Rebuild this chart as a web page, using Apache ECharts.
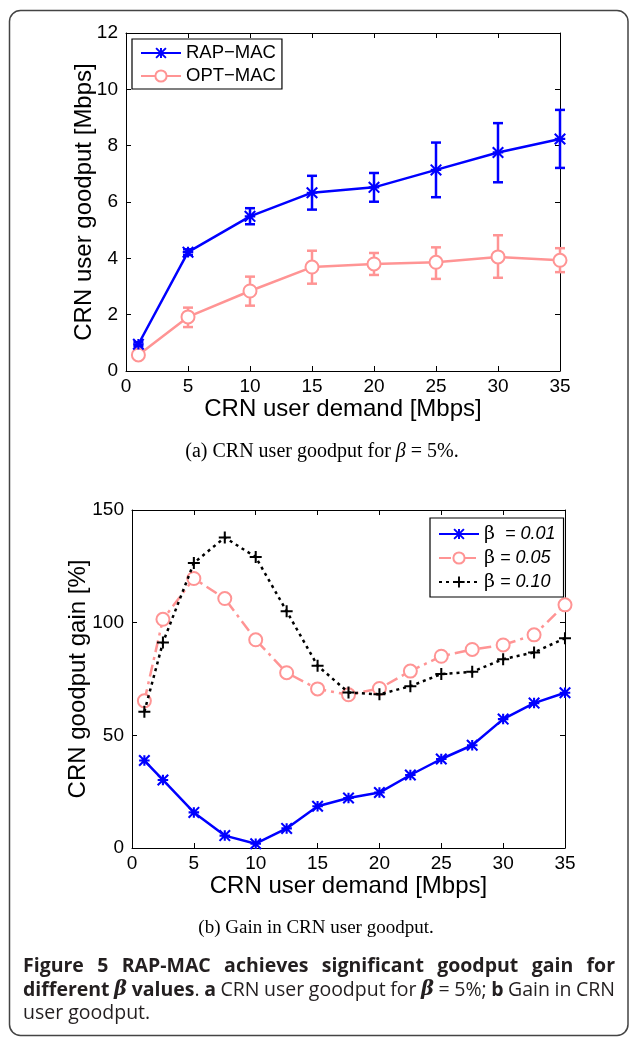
<!DOCTYPE html>
<html><head><meta charset="utf-8">
<script src="https://cdn.jsdelivr.net/npm/echarts@6/dist/echarts.min.js"></script>
<style>html,body{margin:0;padding:0;background:#fff}#c{width:629px;height:1037px}</style>
</head><body><div id="c"></div>
<script>
// ---- data (a): CRN user goodput for beta = 5% ----
const demandA = [1, 5, 10, 15, 20, 25, 30, 35];
const rapMean = [0.95, 4.22, 5.49, 6.33, 6.52, 7.14, 7.76, 8.24];
const rapLow  = [0.88, 4.12, 5.21, 5.73, 6.01, 6.17, 6.70, 7.21];
const rapHigh = [1.02, 4.32, 5.78, 6.93, 7.03, 8.11, 8.80, 9.27];
const optMean = [0.57, 1.92, 2.84, 3.69, 3.80, 3.86, 4.05, 3.93];
const optLow  = [0.52, 1.56, 2.32, 3.10, 3.41, 3.27, 3.31, 3.51];
const optHigh = [0.62, 2.25, 3.35, 4.27, 4.19, 4.39, 4.82, 4.36];
// ---- data (b): gain in CRN user goodput ----
const demandB = [1, 2.5, 5, 7.5, 10, 12.5, 15, 17.5, 20, 22.5, 25, 27.5, 30, 32.5, 35];
const gain001 = [38.8, 30.2, 15.8, 5.5, 1.9, 8.7, 18.5, 22.2, 24.6, 32.4, 39.5, 45.6, 57.2, 64.3, 68.9];
const gain005 = [65.3, 101.5, 119.6, 110.7, 92.4, 77.8, 70.6, 68.0, 70.8, 78.5, 85.1, 88.1, 90.1, 94.6, 107.9];
const gain010 = [60.5, 91.2, 126.5, 137.8, 129.1, 105.1, 80.9, 69.0, 68.2, 71.8, 77.2, 78.2, 83.8, 86.8, 93.1];
const seriesNamesA = ['RAP-MAC', 'OPT-MAC'];
const seriesNamesB = ['β  = 0.01', 'β = 0.05', 'β = 0.10'];
const xTicks = {min: 0, max: 35, interval: 5};
const yTicksA = {min: 0, max: 12, interval: 2};
const yTicksB = {min: 0, max: 150, interval: 50};

const zip = (xs, ys) => xs.map((x, i) => [x, ys[i]]);
const zip3 = (xs, a, b) => xs.map((x, i) => [x, a[i], b[i]]);

const FONT = 'Liberation Sans';
const BLUE = '#0000ff', PINK = '#ff9494', BLACK = '#000000';

const asterisk = 'path://M8 0L12 0L12 20L8 20ZM0 8L20 8L20 12L0 12ZM1.4 -1.4L21.4 18.6L18.6 21.4L-1.4 1.4ZM21.4 1.4L1.4 21.4L-1.4 18.6L18.6 -1.4Z';
const plus = 'path://M8.3 0L11.7 0L11.7 20L8.3 20ZM0 8.3L20 8.3L20 11.7L0 11.7Z';

function errRender(color) {
  return function (params, api) {
    const x = api.value(0), lo = api.value(1), hi = api.value(2);
    const p1 = api.coord([x, lo]), p2 = api.coord([x, hi]);
    const w = 5;
    const style = {stroke: color, lineWidth: 2.5, fill: null};
    return {type: 'group', children: [
      {type: 'line', shape: {x1: p1[0], y1: p1[1], x2: p2[0], y2: p2[1]}, style},
      {type: 'line', shape: {x1: p1[0] - w, y1: p1[1], x2: p1[0] + w, y2: p1[1]}, style},
      {type: 'line', shape: {x1: p2[0] - w, y1: p2[1], x2: p2[0] + w, y2: p2[1]}, style}
    ]};
  };
}

function mkX(grid, pos, labels) {
  return Object.assign({type: 'value', gridIndex: grid, position: pos}, xTicks, {
    axisLine: {show: true, onZero: false, lineStyle: {color: '#000', width: 1}},
    axisTick: {show: true, inside: true, length: 5, lineStyle: {color: '#000'}},
    axisLabel: {show: labels, color: '#000', fontFamily: FONT, fontSize: 19, margin: 6},
    splitLine: {show: false}
  });
}
function mkY(grid, pos, labels, ticks) {
  return Object.assign({type: 'value', gridIndex: grid, position: pos}, ticks, {
    axisLine: {show: true, onZero: false, lineStyle: {color: '#000', width: 1}},
    axisTick: {show: true, inside: true, length: 5, lineStyle: {color: '#000'}},
    axisLabel: {show: labels, color: '#000', fontFamily: FONT, fontSize: 19, margin: 8},
    splitLine: {show: false}
  });
}

const xAxes = [mkX(0, 'bottom', true), mkX(0, 'top', false), mkX(1, 'bottom', true), mkX(1, 'top', false)];
const yAxes = [mkY(0, 'left', true, yTicksA), mkY(0, 'right', false, yTicksA), mkY(1, 'left', true, yTicksB), mkY(1, 'right', false, yTicksB)];
const nameStyle = {color: '#000', fontFamily: FONT, fontSize: 24};
Object.assign(xAxes[0], {name: 'CRN user demand [Mbps]', nameLocation: 'middle', nameGap: 24, nameTextStyle: nameStyle});
Object.assign(xAxes[2], {name: 'CRN user demand [Mbps]', nameLocation: 'middle', nameGap: 24, nameTextStyle: nameStyle});
Object.assign(yAxes[0], {name: 'CRN user goodput [Mbps]', nameLocation: 'middle', nameGap: 30, nameMoveOverlap: false, nameTextStyle: nameStyle});
Object.assign(yAxes[2], {name: 'CRN goodput gain [%]', nameLocation: 'middle', nameGap: 42, nameMoveOverlap: false, nameTextStyle: nameStyle});

// ---- caption layout helpers ----
const mctx = document.createElement('canvas').getContext('2d');
function measure(t, font) { mctx.font = font; return mctx.measureText(t).width; }
const CF = 'Open Sans';
const CS = 19.5;
const fB = {fontWeight: 'bold', fontStyle: 'normal', fontFamily: CF};
const fR = {fontWeight: 'normal', fontStyle: 'normal', fontFamily: CF};
const fBI = {fontWeight: 'bold', fontStyle: 'italic', fontFamily: 'DejaVu Serif'};
function fontStr(f) { return f.fontStyle + ' ' + f.fontWeight + ' ' + CS + 'px "' + f.fontFamily + '"'; }
function justifyLine(words, x0, x1, y, justify) {
  const out = [];
  const widths = words.map(w => w.reduce((s, seg) => s + measure(seg[0], fontStr(seg[1])), 0));
  const total = widths.reduce((a, b) => a + b, 0);
  const space = measure(' ', fontStr(fR));
  let gap = justify ? (x1 - x0 - total) / (words.length - 1) : space;
  if (gap < space * 0.5) gap = space * 0.5;
  let x = x0;
  words.forEach((w, i) => {
    let sx = x;
    w.forEach(seg => {
      out.push({type: 'text', x: sx, y: y, style: {text: seg[0], fill: '#231f20', font: fontStr(seg[1]), textVerticalAlign: 'middle'}});
      sx += measure(seg[0], fontStr(seg[1]));
    });
    x += widths[i] + gap;
  });
  return out;
}
const line1 = 'Figure 5 RAP-MAC achieves significant goodput gain for'.split(' ').map(w => [[w, fB]]);
const line2 = [[['different', fB]], [['β', fBI]], [['values', fB], ['.', fR]], [['a', fB]], [['CRN', fR]], [['user', fR]], [['goodput', fR]], [['for', fR]], [['β', fBI]], [['=', fR]], [['5%;', fR]], [['b', fB]], [['Gain', fR]], [['in', fR]], [['CRN', fR]]];
const line3 = [[['user', fR]], [['goodput.', fR]]];

const graphics = [
  {type: 'rect', shape: {x: 9.5, y: 10.5, width: 618.5, height: 1025, r: 11}, style: {fill: null, stroke: '#444', lineWidth: 1.5}, z: -1},
  {type: 'text', x: 322, y: 452, style: {text: '{n|(a) CRN user goodput for }{m|β}{n| = 5%.}', textAlign: 'center', textVerticalAlign: 'middle',
    rich: {n: {fontFamily: 'Liberation Serif', fontSize: 20, fill: '#000'}, m: {fontFamily: 'Liberation Serif', fontStyle: 'italic', fontSize: 20, fill: '#000'}}}},
  {type: 'text', x: 316, y: 928, style: {text: '(b) Gain in CRN user goodput.', textAlign: 'center', textVerticalAlign: 'middle', font: '19px "Liberation Serif"', fill: '#000'}}
].concat(justifyLine(line1, 23, 615, 966, true), justifyLine(line2, 23, 615, 990, true), justifyLine(line3, 23, 615, 1013, false));

const option = {
  animation: false,
  backgroundColor: '#fff',
  grid: [
    {left: 126, top: 33, width: 434, height: 338},
    {left: 132, top: 510, width: 433, height: 338}
  ],
  xAxis: xAxes,
  yAxis: yAxes,
  legend: [
    {data: seriesNamesA, left: 132, top: 39, orient: 'vertical', backgroundColor: '#fff', borderColor: '#000', borderWidth: 1.2, borderRadius: 0,
      padding: [4, 6, 3, 8], itemGap: 3, itemWidth: 40, itemHeight: 14,
      textStyle: {fontFamily: FONT, fontSize: 18.5, color: '#000', lineHeight: 20},
      formatter: n => n.replace('-', '−')},
    {data: seriesNamesB, left: 430, top: 518, orient: 'vertical', backgroundColor: '#fff', borderColor: '#000', borderWidth: 1.2, borderRadius: 0,
      padding: [6, 8, 5, 8], itemGap: 4, itemWidth: 40, itemHeight: 14,
      formatter: n => '{b|β}{i|' + n.slice(1) + '}',
      textStyle: {color: '#000', lineHeight: 20, rich: {b: {fontFamily: 'DejaVu Serif', fontSize: 19, color: '#000'}, i: {fontFamily: FONT, fontStyle: 'italic', fontSize: 18, color: '#000'}}}}
  ],
  graphic: graphics,
  series: [
    {type: 'custom', xAxisIndex: 0, yAxisIndex: 0, renderItem: errRender(PINK), data: zip3(demandA, optLow, optHigh), clip: false, z: 2, silent: true},
    {type: 'custom', xAxisIndex: 0, yAxisIndex: 0, renderItem: errRender(BLUE), data: zip3(demandA, rapLow, rapHigh), clip: false, z: 2, silent: true},
    {name: seriesNamesA[1], type: 'line', xAxisIndex: 0, yAxisIndex: 0, data: zip(demandA, optMean), color: PINK,
      lineStyle: {color: PINK, width: 2.5}, symbol: 'emptyCircle', symbolSize: 13, itemStyle: {color: PINK, borderColor: PINK, borderWidth: 2}, z: 3},
    {name: seriesNamesA[0], type: 'line', xAxisIndex: 0, yAxisIndex: 0, data: zip(demandA, rapMean), color: BLUE,
      lineStyle: {color: BLUE, width: 2.5}, symbol: asterisk, symbolSize: 12, itemStyle: {color: BLUE, borderWidth: 0}, z: 4},
    {name: seriesNamesB[0], type: 'line', xAxisIndex: 2, yAxisIndex: 2, data: zip(demandB, gain001), color: BLUE,
      lineStyle: {color: BLUE, width: 2.5}, symbol: asterisk, symbolSize: 12, itemStyle: {color: BLUE, borderWidth: 0}, z: 4, clip: false},
    {name: seriesNamesB[1], type: 'line', xAxisIndex: 2, yAxisIndex: 2, data: zip(demandB, gain005), color: PINK,
      lineStyle: {color: PINK, width: 2.5, type: [12, 5, 3, 5]}, symbol: 'emptyCircle', symbolSize: 13, itemStyle: {color: PINK, borderColor: PINK, borderWidth: 2}, z: 3, clip: false},
    {name: seriesNamesB[2], type: 'line', xAxisIndex: 2, yAxisIndex: 2, data: zip(demandB, gain010), color: BLACK,
      lineStyle: {color: BLACK, width: 2.5, type: [3, 4]}, symbol: plus, symbolSize: 12, itemStyle: {color: BLACK, borderWidth: 0}, z: 5, clip: false}
  ]
};
const chart = echarts.init(document.getElementById('c'), null, {renderer: 'canvas'});
chart.setOption(option);
</script></body></html>
